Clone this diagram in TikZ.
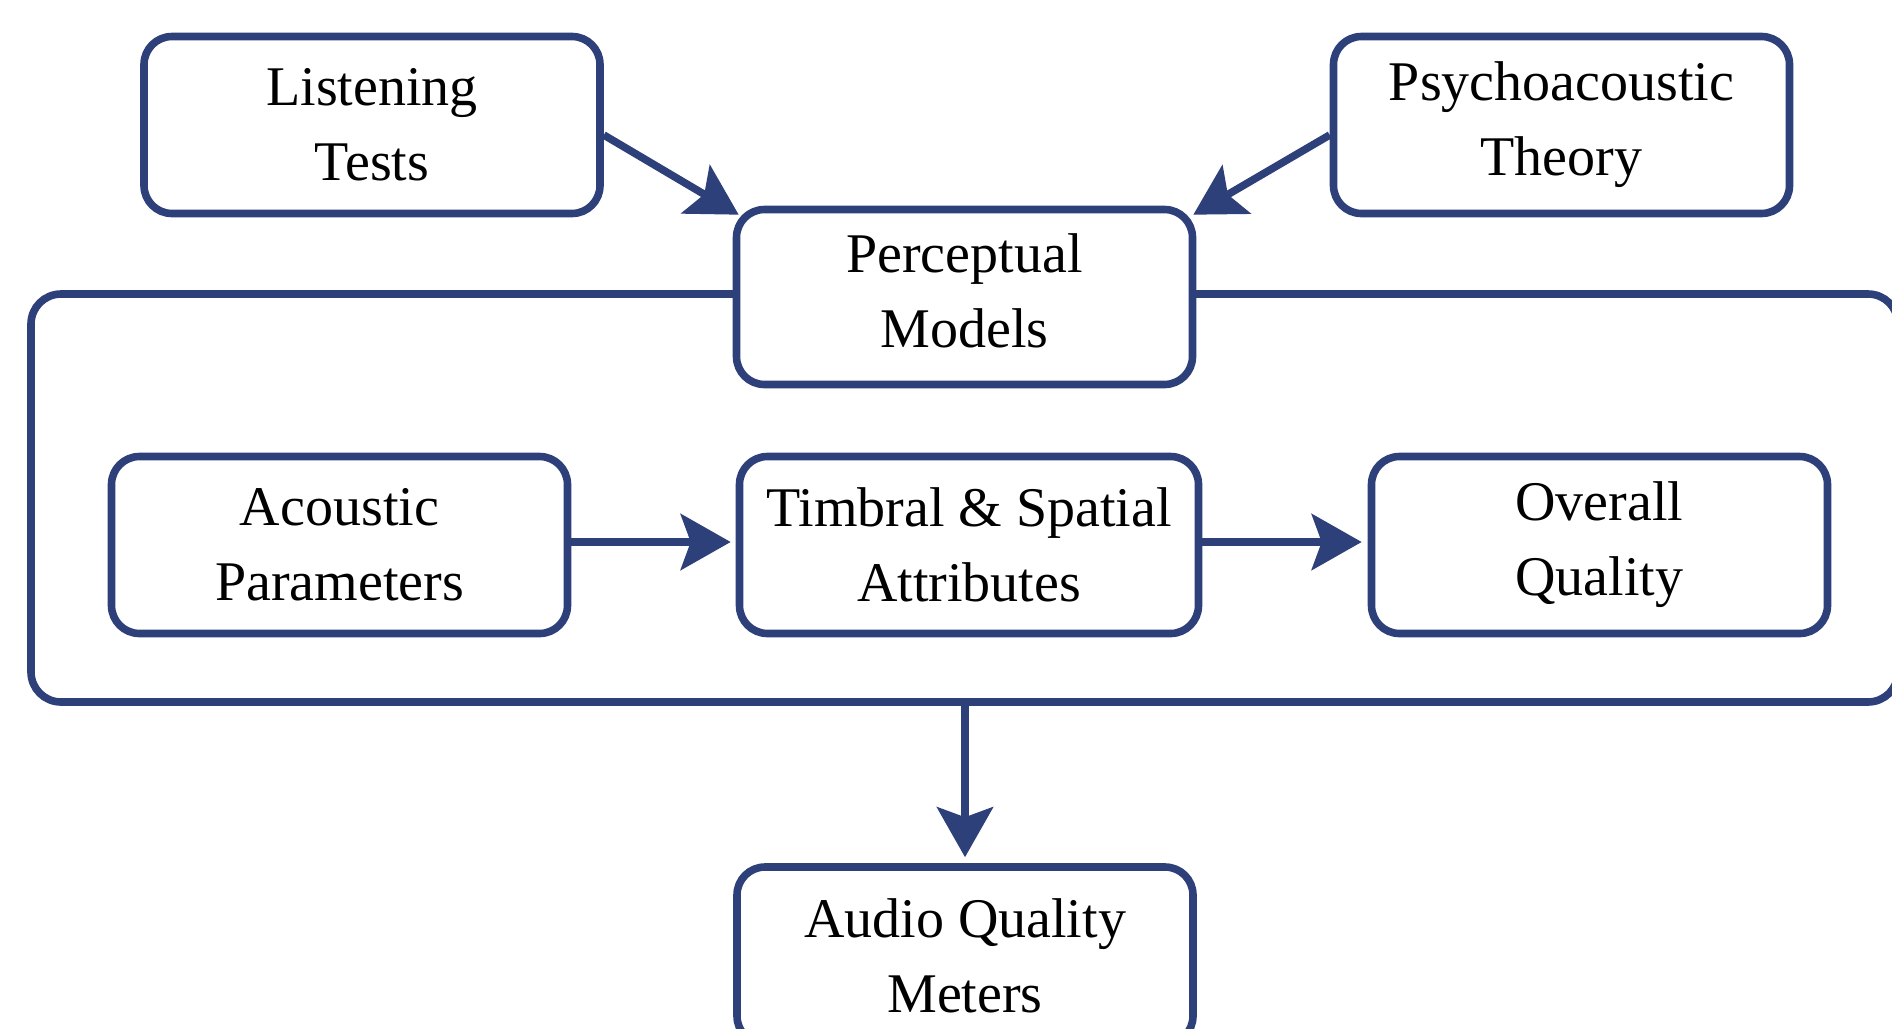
\documentclass[tikz,border=0pt]{standalone}
\usepackage{fontspec}
\setmainfont{Liberation Serif}
\usetikzlibrary{arrows.meta}
\definecolor{navy}{RGB}{46,64,122}
\begin{document}
\begin{tikzpicture}[x=0.5pt,y=-0.5pt,
  box/.style={draw=navy, line width=3.8pt, rounded corners=14pt, fill=white, align=center,
    inner sep=0pt, minimum width=228pt, minimum height=88.5pt,
    font=\fontsize{28}{37.5}\selectfont},
  framebox/.style={draw=navy, line width=3.8pt, rounded corners=15pt, inner sep=0pt},
  arr/.style={draw=navy, line width=3.8pt, -{Stealth[length=25pt,width=28pt,inset=5pt]}}]
\useasboundingbox (0,0) rectangle (1892,1029);
\fill[white] (0,0) rectangle (1892,1029);

\node[framebox, minimum width=933.5pt, minimum height=204pt] (frame) at (964.5,498) {};

\node[box] (LT) at (372,125) {Listening\\Tests};
\node[box] (PT) at (1561.5,125) {Psychoacoustic\\Theory};
\node[box, minimum height=87.5pt, text depth=6pt] (PM) at (964.5,297) {Perceptual\\Models};
\node[box] (AP) at (339.5,545) {Acoustic\\Parameters};
\node[box, minimum width=229.5pt] (TS) at (969,545) {Timbral \& Spatial\\Attributes};
\node[box] (OQ) at (1599.5,545) {Overall\\Quality};
\node[box] (AQM) at (965,955.5) {Audio Quality\\Meters};

\draw[arr] ([yshift=-5pt]LT.east) -- ([xshift=3pt,yshift=-4.5pt]PM.north west);
\draw[arr] ([yshift=-5pt]PT.west) -- ([xshift=-1.5pt,yshift=-4.5pt]PM.north east);
\draw[arr, shorten >=2.5pt] ([yshift=1.5pt]AP.east) -- ([yshift=1.5pt]TS.west);
\draw[arr, shorten >=3pt] ([yshift=1.5pt]TS.east) -- ([yshift=1.5pt]OQ.west);
\draw[arr, shorten >=3pt] (frame.south -| AQM.north) -- (AQM.north);
\end{tikzpicture}
\end{document}
